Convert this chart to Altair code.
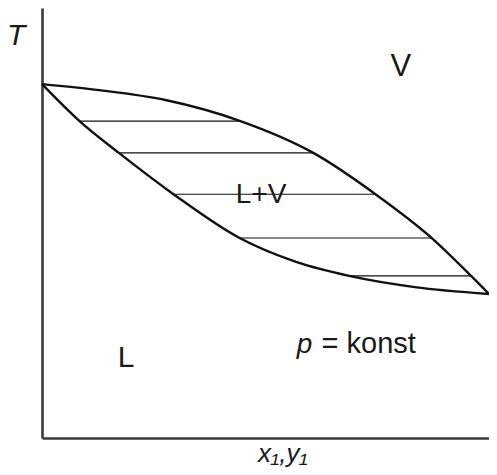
import altair as alt
import pandas as pd

# Dew-point (vapour) curve
dew_x = [0.0, 0.128, 0.276, 0.444, 0.607, 0.746, 0.872, 0.960, 1.0]
dew_T = [0.823, 0.809, 0.786, 0.737, 0.663, 0.567, 0.465, 0.377, 0.335]

# Bubble-point (liquid) curve
bub_x = [0.0, 0.084, 0.172, 0.294, 0.442, 0.570, 0.687, 0.834, 1.0]
bub_T = [0.823, 0.737, 0.663, 0.567, 0.465, 0.409, 0.377, 0.351, 0.335]

# Tie lines
tie_T = [0.737, 0.663, 0.567, 0.465, 0.377]
tie_x1 = [0.084, 0.172, 0.294, 0.442, 0.687]
tie_x2 = [0.444, 0.607, 0.746, 0.872, 0.960]

# Region labels (baseline positions)
lab_text = ["V", "L+V", "L"]
lab_x = [0.803, 0.490, 0.188]
lab_T = [0.842, 0.547, 0.165]
lab_size = [31, 28, 30]

# Annotation "p = konst"
p_text = ["p"]
p_x = [0.570]
p_T = [0.198]
konst_text = ["= konst"]
konst_x = [0.731]
konst_T = [0.198]

# Axis titles drawn as text
ytitle_text = ["T"]
ytitle_x = [-0.058]
ytitle_T = [0.914]
xtitle_text = ["x\u2081,y\u2081"]
xtitle_x = [0.539]
xtitle_T = [-0.056]

curves = pd.DataFrame({
    "x": dew_x + bub_x,
    "T": dew_T + bub_T,
    "curve": ["dew"] * len(dew_x) + ["bubble"] * len(bub_x),
    "order": list(range(len(dew_x))) + list(range(len(bub_x))),
})
ties = pd.DataFrame({"T": tie_T, "x1": tie_x1, "x2": tie_x2})
labels = pd.DataFrame({"text": lab_text, "x": lab_x, "T": lab_T, "size": lab_size})
pdf = pd.DataFrame({"text": p_text, "x": p_x, "T": p_T})
kdf = pd.DataFrame({"text": konst_text, "x": konst_x, "T": konst_T})
ydf = pd.DataFrame({"text": ytitle_text, "x": ytitle_x, "T": ytitle_T})
xdf = pd.DataFrame({"text": xtitle_text, "x": xtitle_x, "T": xtitle_T})

xs = alt.Scale(domain=[0, 1], nice=False)
ys = alt.Scale(domain=[0, 1], nice=False)

FONT = "Liberation Sans"
INK = "#1a1a1a"

base_x = alt.X("x:Q", scale=xs,
               axis=alt.Axis(title=None, labels=False, ticks=False, grid=False,
                             domainColor="#3a3a3a", domainWidth=2.6))
base_y = alt.Y("T:Q", scale=ys,
               axis=alt.Axis(title=None, labels=False, ticks=False, grid=False,
                             domainColor="#3a3a3a", domainWidth=2.6))

curve_layer = alt.Chart(curves).mark_line(
    color="#111", strokeWidth=2.4, interpolate="monotone"
).encode(x=base_x, y=base_y, detail="curve:N", order="order:Q")

tie_layer = alt.Chart(ties).mark_rule(color="#111", strokeWidth=1.1).encode(
    x=alt.X("x1:Q", scale=xs), x2="x2:Q", y=alt.Y("T:Q", scale=ys)
)

label_layer = alt.Chart(labels).mark_text(
    font=FONT, color=INK, align="center", baseline="alphabetic"
).encode(x=alt.X("x:Q", scale=xs), y=alt.Y("T:Q", scale=ys), text="text:N",
         size=alt.Size("size:Q", scale=None, legend=None))

p_layer = alt.Chart(pdf).mark_text(
    font=FONT, fontSize=28, fontStyle="italic", color=INK, align="left", baseline="alphabetic"
).encode(x=alt.X("x:Q", scale=xs), y=alt.Y("T:Q", scale=ys), text="text:N")

k_layer = alt.Chart(kdf).mark_text(
    font=FONT, fontSize=29, color=INK, align="center", baseline="alphabetic"
).encode(x=alt.X("x:Q", scale=xs), y=alt.Y("T:Q", scale=ys), text="text:N")

y_title = alt.Chart(ydf).mark_text(
    font=FONT, fontSize=30, fontStyle="italic", color=INK, align="center", baseline="alphabetic"
).encode(x=alt.X("x:Q", scale=xs), y=alt.Y("T:Q", scale=ys), text="text:N")

x_title = alt.Chart(xdf).mark_text(
    font=FONT, fontSize=26, fontStyle="italic", color=INK, align="center", baseline="alphabetic"
).encode(x=alt.X("x:Q", scale=xs), y=alt.Y("T:Q", scale=ys), text="text:N")

chart = alt.layer(
    curve_layer, tie_layer, label_layer, p_layer, k_layer, y_title, x_title
).properties(
    width=447, height=430,
    autosize=alt.AutoSizeParams(type="none"),
    padding={"left": 34, "top": 0, "right": 0, "bottom": 29},
).configure_view(stroke=None)

chart.save("out.html", embed_options={"renderer": "svg", "actions": False})
